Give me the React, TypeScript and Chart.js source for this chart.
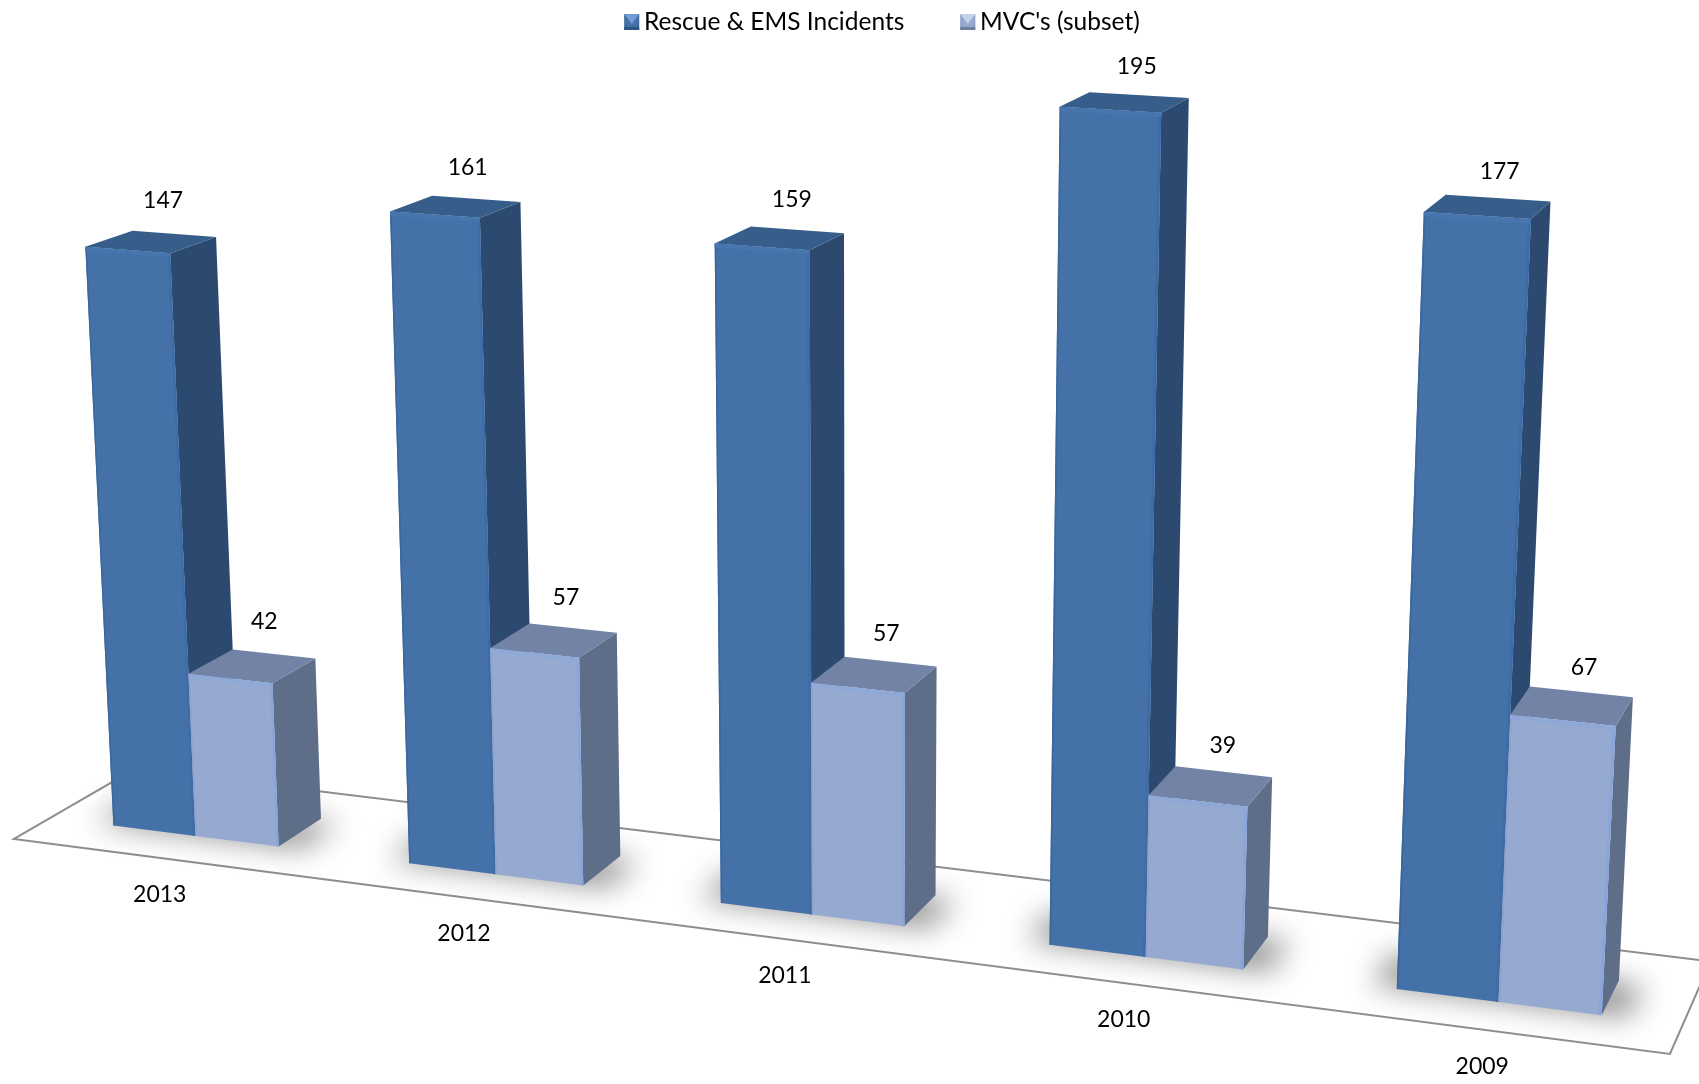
import React, { useEffect, useRef } from "react";
import { Chart, registerables } from "chart.js";

Chart.register(...registerables);

const years = ["2013", "2012", "2011", "2010", "2009"];
const rescueIncidents = [147, 161, 159, 195, 177];
const mvcSubset = [42, 57, 57, 39, 67];
const seriesNames = ["Rescue & EMS Incidents", "MVC's (subset)"];
const valueMax = 200;

const FONT = "Lato";

// Projective camera: normalised scale position (X along category axis, Y along value axis, Z depth) -> canvas
const VX = [-11267, -625.8];
const VY = [864, 16288];
const VZ = [2363, -524];
const ORIGIN = [14, 839];
const A = -0.128;
const B = -0.0496;
const G = 0.0543;
const Z_FRONT = 0.295;
const Z_BACK = 0.675;

type P = [number, number];
const project = (x: number, y: number, z: number): P => {
  const d = A * x + B * y + G * z + 1;
  return [
    (A * x * VX[0] + B * y * VY[0] + G * z * VZ[0] + ORIGIN[0]) / d,
    (A * x * VX[1] + B * y * VY[1] + G * z * VZ[1] + ORIGIN[1]) / d,
  ];
};

const palettes = [
  { front: "#4471A7", side: "#2C4A6F", top: "#375D8B", rimTop: "#4775AD", rimRight: "#3D6CA8", rimLeft: "#3B679C" },
  { front: "#95A9D1", side: "#5E6D88", top: "#7283A5", rimTop: "#90A8D6", rimRight: "#8AA5DA", rimLeft: "#8FA3CC" },
];

const poly = (ctx: CanvasRenderingContext2D, pts: P[], color: string) => {
  ctx.beginPath();
  pts.forEach((p, i) => (i ? ctx.lineTo(p[0], p[1]) : ctx.moveTo(p[0], p[1])));
  ctx.closePath();
  ctx.fillStyle = color;
  ctx.fill();
};

const LEGEND_PAD = 56;
const LEGEND_FONT = 24.5;
const LEGEND_CENTER_Y = 22;

const scene3d = {
  id: "scene3d",
  beforeDraw(chart: any) {
    chart.legend.top = LEGEND_CENTER_Y - LEGEND_FONT / 2 - LEGEND_PAD;
  },
  beforeDatasetsDraw(chart: any) {
    const { ctx, chartArea: a } = chart;
    const nx = (px: number) => (px - a.left) / a.width;
    const ny = (py: number) => (a.bottom - py) / a.height;

    // floor
    ctx.save();
    ctx.beginPath();
    [project(0, 0, 0), project(1, 0, 0), project(1, 0, 1), project(0, 0, 1)].forEach((p, i) =>
      i ? ctx.lineTo(p[0], p[1]) : ctx.moveTo(p[0], p[1])
    );
    ctx.closePath();
    ctx.fillStyle = "#ffffff";
    ctx.fill();
    ctx.strokeStyle = "#8E8E8E";
    ctx.lineWidth = 2;
    ctx.stroke();
    ctx.restore();

    const m0 = chart.getDatasetMeta(0).data;
    const m1 = chart.getDatasetMeta(1).data;

    // soft floor shadows (only the blur reaches the canvas)
    const off = 4000;
    m0.forEach((el: any, i: number) => {
      const other = m1[i];
      const x0 = nx(el.x - el.width / 2);
      const x1 = nx(other.x + other.width / 2);
      ctx.save();
      ctx.shadowColor = "rgba(0,0,0,0.45)";
      ctx.shadowBlur = 30;
      ctx.shadowOffsetX = off;
      const corners: P[] = [
        project(x0 - 0.014, 0, Z_FRONT + 0.02),
        project(x1 + 0.014, 0, Z_FRONT + 0.02),
        project(x1 + 0.014, 0, Z_BACK - 0.03),
        project(x0 - 0.014, 0, Z_BACK - 0.03),
      ];
      poly(ctx, corners.map((p) => [p[0] - off, p[1]] as P), "#000000");
      ctx.restore();
    });

    // bars, drawn from each bar element's own scale position
    m0.forEach((_: any, i: number) => {
      [m0[i], m1[i]].forEach((el: any, s: number) => {
        const c = palettes[s];
        const x0 = nx(el.x - el.width / 2);
        const x1 = nx(el.x + el.width / 2);
        const y1 = ny(el.y);
        const y0 = ny(el.base);
        const zf = Z_FRONT;
        const zb = Z_BACK;
        poly(ctx, [project(x1, y0, zf), project(x1, y1, zf), project(x1, y1, zb), project(x1, y0, zb)], c.side);
        poly(ctx, [project(x0, y1, zf), project(x1, y1, zf), project(x1, y1, zb), project(x0, y1, zb)], c.top);
        poly(ctx, [project(x0, y0, zf), project(x1, y0, zf), project(x1, y1, zf), project(x0, y1, zf)], c.front);
        // bevel rims
        const dx = 0.0016;
        const dy = 0.005;
        poly(ctx, [project(x1 - dx, y0, zf), project(x1, y0, zf), project(x1, y1, zf), project(x1 - dx, y1, zf)], c.rimRight);
        poly(ctx, [project(x0, y0, zf), project(x0 + dx * 0.6, y0, zf), project(x0 + dx * 0.6, y1, zf), project(x0, y1, zf)], c.rimLeft);
        poly(ctx, [project(x0, y1 - dy, zf), project(x1, y1 - dy, zf), project(x1, y1, zf), project(x0, y1, zf)], c.rimTop);
      });
    });

    // value labels
    ctx.save();
    ctx.font = `23px ${FONT}`;
    ctx.fillStyle = "#000000";
    ctx.textAlign = "center";
    ctx.textBaseline = "middle";
    chart.data.datasets.forEach((ds: any, s: number) => {
      chart.getDatasetMeta(s).data.forEach((el: any, i: number) => {
        const X = nx(el.x);
        const Y = ny(el.y);
        const p = project(X, Y, (Z_FRONT + Z_BACK) / 2);
        ctx.fillText(String(ds.data[i]), p[0] + 12, p[1] - 46.5 + 6.5 * X + 6.5 * Y);
      });
    });
    // category labels on the front floor edge
    chart.data.labels.forEach((lab: string, i: number) => {
      const p = project(nx(chart.scales.x.getPixelForTick(i)), 0, 0);
      ctx.fillText(lab, p[0] - 0.5, p[1] + 36.5);
    });
    ctx.restore();
    return false;
  },
  afterDraw(chart: any) {
    // bevelled legend swatches
    const { ctx } = chart;
    const boxes = chart.legend?.legendHitBoxes ?? [];
    const tones = [
      ["#4471A7", "#6F9BD6", "#2F5585", "#3A6396"],
      ["#95A9D1", "#C6D2EC", "#6F7F9F", "#8496BC"],
    ];
    boxes.forEach((h: any, i: number) => {
      const w = 15;
      const ht = 16;
      const t = LEGEND_CENTER_Y - 8;
      const l = h.left;
      const c = tones[i];
      ctx.save();
      ctx.fillStyle = "#ffffff";
      ctx.fillRect(l - 1, t - 1, w + 2, ht + 2);
      poly(ctx, [[l, t], [l + w, t], [l + w, t + ht], [l, t + ht]], c[3]);
      poly(ctx, [[l, t + 2], [l + w, t + 2], [l + w - 2, t + ht - 3], [l + 2, t + ht - 3]], c[0]);
      poly(ctx, [[l, t], [l + w, t], [l + w / 2, t + ht * 0.62]], c[1]);
      poly(ctx, [[l, t + ht], [l + w, t + ht], [l + w, t + ht - 3], [l, t + ht - 3]], c[2]);
      ctx.restore();
    });
  },
};

export default function App() {
  const ref = useRef<HTMLCanvasElement>(null);
  useEffect(() => {
    const chart = new Chart(ref.current!, {
      type: "bar",
      data: {
        labels: years,
        datasets: [
          { label: seriesNames[0], data: rescueIncidents, backgroundColor: palettes[0].front },
          { label: seriesNames[1], data: mvcSubset, backgroundColor: palettes[1].front },
        ],
      },
      options: {
        responsive: false,
        animation: false,
        devicePixelRatio: 1,
        layout: { padding: { left: 65 } },
        datasets: { bar: { categoryPercentage: 0.565, barPercentage: 1 } },
        scales: {
          x: { display: false },
          y: { display: false, min: 0, max: valueMax },
        },
        plugins: {
          tooltip: { enabled: false },
          legend: {
            position: "top",
            labels: {
              color: "#000000",
              font: { family: FONT, size: LEGEND_FONT },
              boxWidth: 7.5,
              boxHeight: 14,
              padding: LEGEND_PAD,
            },
          },
        },
      },
      plugins: [scene3d],
    } as any);
    return () => chart.destroy();
  }, []);
  return (
    <canvas
      ref={ref}
      width={1699}
      height={1084}
      style={{ position: "fixed", left: 0, top: 0, width: 1699, height: 1084, display: "block", background: "#ffffff" }}
    />
  );
}
